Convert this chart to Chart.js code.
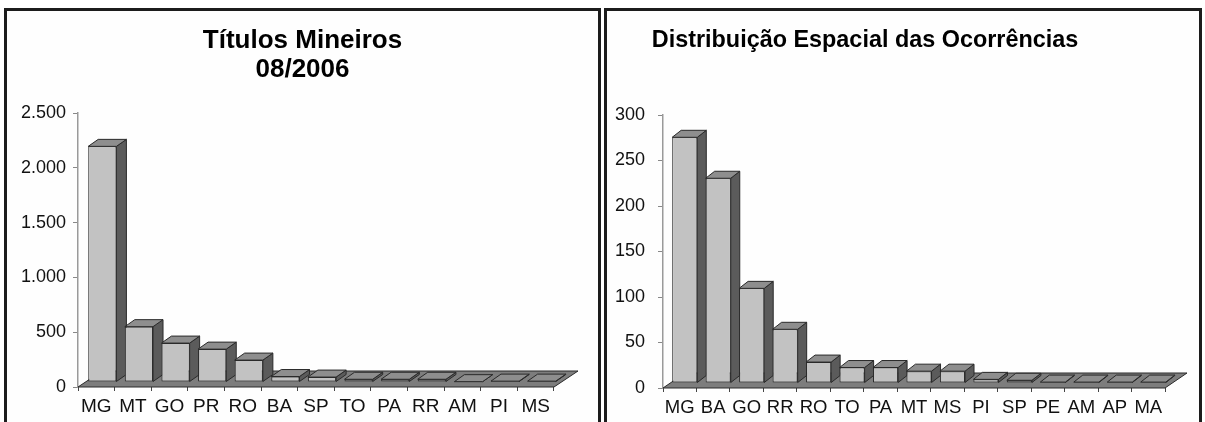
<!DOCTYPE html>
<html>
<head>
<meta charset="utf-8">
<script src="https://cdn.jsdelivr.net/npm/chart.js@4.4.1/dist/chart.umd.min.js"></script>
<style>
  html, body { margin: 0; padding: 0; background: #ffffff; width: 1205px; height: 422px; overflow: hidden; }
  .panel { position: absolute; top: 8px; height: 440px; border: 3px solid #1c1c1c; box-sizing: border-box; overflow: hidden; background: #fefefe; }
  #p1 { left: 4px; width: 597px; }
  #p2 { left: 604px; width: 598px; }
  canvas { position: absolute; top: 0; }
  #c1 { left: 0; }
  #c2 { left: -76px; }
</style>
</head>
<body>
<div class="panel" id="p1"><canvas id="c1" width="591" height="411"></canvas></div>
<div class="panel" id="p2"><canvas id="c2" width="668" height="411"></canvas></div>
<script>
// Títulos Mineiros por estado (08/2006)
const titulosEstados = ['MG', 'MT', 'GO', 'PR', 'RO', 'BA', 'SP', 'TO', 'PA', 'RR', 'AM', 'PI', 'MS'];
const titulosValores = [2150, 505, 355, 300, 200, 50, 45, 25, 25, 25, 3, 8, 8];
const titulosTicks = [0, 500, 1000, 1500, 2000, 2500];

// Distribuição espacial das ocorrências por estado
const ocorrEstados = ['MG', 'BA', 'GO', 'RR', 'RO', 'TO', 'PA', 'MT', 'MS', 'PI', 'SP', 'PE', 'AM', 'AP', 'MA'];
const ocorrValores = [270, 225, 104, 59, 23, 17, 17, 13, 13, 4, 3, 1, 1, 1, 1];
const ocorrTicks = [0, 50, 100, 150, 200, 250, 300];

const FONT = "'Liberation Sans', Arial, Helvetica, sans-serif";
const fmtMilhar = v => String(v).replace(/\B(?=(\d{3})+(?!\d))/g, '.');

// Pseudo-3D columns: floor slab, then side/top faces, then the library's
// own bar rectangles drawn as the front faces, all in an oblique projection.
const box3d = {
  id: 'box3d',
  beforeDatasetsDraw(chart, args, o) {
    const { ctx, chartArea: a } = chart;
    const y0 = chart.scales.y.getPixelForValue(0);
    const [fx, fy] = o.floor;
    ctx.save();
    ctx.beginPath();
    ctx.moveTo(a.left, y0);
    ctx.lineTo(a.right, y0);
    ctx.lineTo(a.right + fx, y0 + fy);
    ctx.lineTo(a.left + fx, y0 + fy);
    ctx.closePath();
    ctx.fillStyle = '#7d7d7d';
    ctx.fill();
    ctx.lineWidth = 1;
    ctx.strokeStyle = '#2a2a2a';
    ctx.stroke();
    ctx.restore();

    ctx.save();
    ctx.translate(o.shift[0], o.shift[1]);
    const [dx, dy] = o.depth;
    ctx.lineWidth = 1;
    ctx.strokeStyle = '#2a2a2a';
    chart.getDatasetMeta(0).data.forEach(bar => {
      const l = bar.x - bar.width / 2, r = bar.x + bar.width / 2;
      const t = bar.y, b = bar.base;
      ctx.beginPath();
      ctx.moveTo(r, b); ctx.lineTo(r, t); ctx.lineTo(r + dx, t + dy); ctx.lineTo(r + dx, b + dy);
      ctx.closePath();
      ctx.fillStyle = '#5b5b5b';
      ctx.fill(); ctx.stroke();
      ctx.beginPath();
      ctx.moveTo(l, t); ctx.lineTo(r, t); ctx.lineTo(r + dx, t + dy); ctx.lineTo(l + dx, t + dy);
      ctx.closePath();
      ctx.fillStyle = '#8e8e8e';
      ctx.fill(); ctx.stroke();
    });
  },
  afterDatasetsDraw(chart) {
    chart.ctx.restore();
  }
};

function makeChart(id, labels, values, ticks, cfg) {
  return new Chart(document.getElementById(id), {
    type: 'bar',
    data: {
      labels: labels,
      datasets: [{
        data: values,
        backgroundColor: '#c2c2c2',
        borderColor: '#2a2a2a',
        borderWidth: 1,
        borderSkipped: false,
        barPercentage: cfg.barPct,
        categoryPercentage: 1,
        clip: false
      }]
    },
    options: {
      responsive: false,
      animation: false,
      events: [],
      layout: { padding: 0 },
      plugins: {
        legend: { display: false },
        tooltip: { enabled: false },
        title: {
          display: true,
          text: cfg.title,
          color: '#000',
          font: { family: FONT, size: cfg.titleSize, weight: 'bold', lineHeight: cfg.titleLH },
          padding: cfg.titlePad
        },
        box3d: cfg.box
      },
      scales: {
        x: {
          grid: { offset: true, drawOnChartArea: false, drawTicks: true, tickLength: 4, color: '#444', lineWidth: 1 },
          border: { display: false },
          ticks: { color: '#111', font: { family: FONT, size: cfg.xFont }, padding: cfg.xPad, maxRotation: 0, autoSkip: false },
          afterFit: s => { s.height = cfg.xHeight; }
        },
        y: {
          min: ticks[0],
          max: ticks[ticks.length - 1],
          afterBuildTicks: s => { s.ticks = ticks.map(v => ({ value: v })); },
          grid: { drawOnChartArea: false, drawTicks: true, tickLength: 5, color: '#888' },
          border: { display: true, color: '#9a9a9a', width: 1.5 },
          ticks: { color: '#111', font: { family: FONT, size: cfg.yFont }, padding: cfg.yPad, callback: v => fmtMilhar(v) },
          afterFit: s => { s.width = cfg.yWidth; }
        },
        // empty right-hand gutter that leaves room for the floor's depth
        gutter: {
          type: 'linear',
          position: 'right',
          display: true,
          ticks: { display: false },
          grid: { display: false },
          border: { display: false },
          afterFit: s => { s.width = cfg.gutter; }
        }
      }
    },
    plugins: [box3d]
  });
}

makeChart('c1', titulosEstados, titulosValores, titulosTicks, {
  title: ['Títulos Mineiros', '08/2006'],
  titleSize: 26,
  titleLH: 29.5 / 26,
  titlePad: { top: 14.75, bottom: 28.25 },
  yWidth: 71,
  gutter: 44,
  xHeight: 35,
  xFont: 19,
  xPad: 4,
  yFont: 18,
  yPad: 7,
  barPct: 0.77,
  box: { shift: [6, -5], depth: [10, -7], floor: [24, -16] }
});

makeChart('c2', ocorrEstados, ocorrValores, ocorrTicks, {
  title: 'Distribuição Espacial das Ocorrências',
  titleSize: 23.4,
  titleLH: 1.2,
  titlePad: { top: 15.96, bottom: 59.96 },
  yWidth: 132,
  gutter: 34,
  xHeight: 34,
  xFont: 18.5,
  xPad: 5,
  yFont: 18,
  yPad: 13,
  barPct: 0.75,
  box: { shift: [5, -5], depth: [9, -7], floor: [22, -15] }
});
</script>
</body>
</html>
